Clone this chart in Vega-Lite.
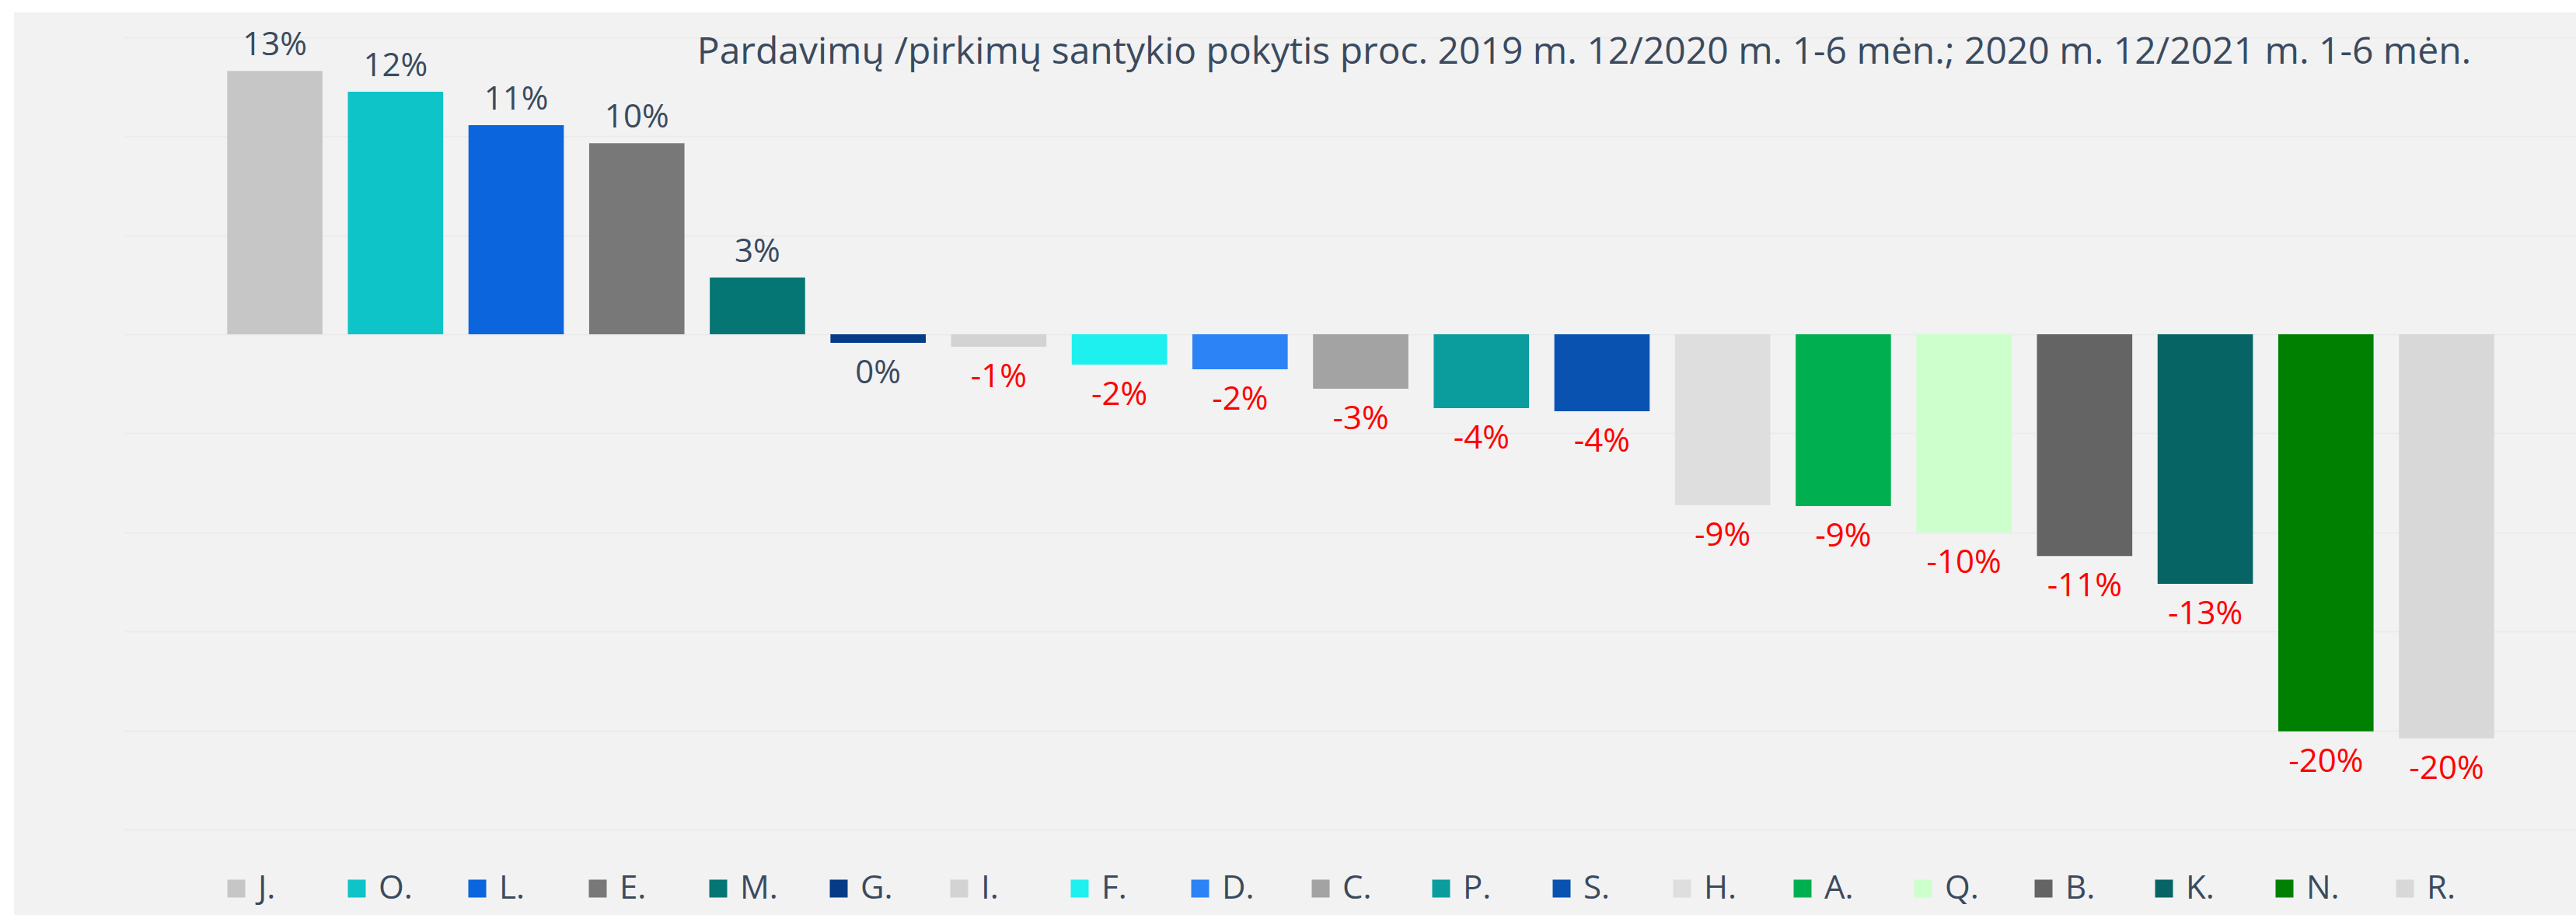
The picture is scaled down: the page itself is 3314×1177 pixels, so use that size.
{
  "$schema": "https://vega.github.io/schema/vega-lite/v6.json",
  "autosize": {"type": "none"},
  "padding": {"left": 18, "top": 16, "right": 0, "bottom": 0},
  "width": 3296,
  "height": 1161,
  "background": "#ffffff",
  "config": {
    "view": {"fill": "#f2f2f2", "stroke": null},
    "font": "Open Sans",
    "locale": {
      "number": {"decimal": ".", "thousands": ",", "grouping": [3], "currency": ["", ""], "minus": "-", "percent": "%"}
    }
  },
  "title": {
    "text": "Pardavimų /pirkimų santykio  pokytis proc. 2019 m. 12/2020 m. 1-6 mėn.; 2020 m. 12/2021 m. 1-6 mėn.",
    "anchor": "middle",
    "dx": 372,
    "dy": 50,
    "offset": -64,
    "baseline": "alphabetic",
    "font": "Open Sans",
    "fontSize": 48,
    "fontWeight": "normal",
    "color": "#3a4a5e"
  },
  "data": {
    "values": [
      {"cat": "J.", "value": 0.133},
      {"cat": "O.", "value": 0.1225},
      {"cat": "L.", "value": 0.1056},
      {"cat": "E.", "value": 0.0965},
      {"cat": "M.", "value": 0.0287},
      {"cat": "G.", "value": -0.0043},
      {"cat": "I.", "value": -0.0063},
      {"cat": "F.", "value": -0.0153},
      {"cat": "D.", "value": -0.0177},
      {"cat": "C.", "value": -0.0275},
      {"cat": "P.", "value": -0.0373},
      {"cat": "S.", "value": -0.0389},
      {"cat": "H.", "value": -0.0863},
      {"cat": "A.", "value": -0.0867},
      {"cat": "Q.", "value": -0.100},
      {"cat": "B.", "value": -0.112},
      {"cat": "K.", "value": -0.126},
      {"cat": "N.", "value": -0.2005},
      {"cat": "R.", "value": -0.204}
    ]
  },
  "encoding": {
    "x": {
      "field": "cat",
      "type": "nominal",
      "sort": null,
      "axis": null,
      "scale": {"range": [142, 3296], "paddingInner": 0.21, "paddingOuter": 0.765, "align": 0.557, "round": false}
    },
    "y": {
      "field": "value",
      "type": "quantitative",
      "scale": {"domain": [-0.2932, 0.1625], "nice": false, "zero": false},
      "axis": {
        "values": [-0.25, -0.2, -0.15, -0.1, -0.05, 0, 0.05, 0.1, 0.15],
        "grid": true,
        "gridColor": "#ebebeb",
        "gridWidth": 2,
        "labels": false,
        "ticks": false,
        "domain": false,
        "title": null
      }
    }
  },
  "layer": [
    {
      "mark": {"type": "bar"},
      "encoding": {
        "color": {
          "field": "cat",
          "type": "nominal",
          "sort": null,
          "scale": {
            "domain": ["J.", "O.", "L.", "E.", "M.", "G.", "I.", "F.", "D.", "C.", "P.", "S.", "H.", "A.", "Q.", "B.", "K.", "N.", "R."],
            "range": ["#c6c6c6", "#0ec4c8", "#0b65dc", "#787878", "#067674", "#063c87", "#d3d3d3", "#1ef0f0", "#2c83f6", "#a3a3a3", "#0b9c9e", "#0952b0", "#dedede", "#00b050", "#ccffcc", "#646464", "#076464", "#008000", "#d8d8d8"]
          },
          "legend": {
            "orient": "none",
            "legendX": 265,
            "legendY": 1106,
            "direction": "horizontal",
            "columns": 19,
            "gridAlign": "all",
            "columnPadding": 57,
            "symbolType": "square",
            "symbolSize": 529,
            "symbolStrokeWidth": 0,
            "labelFont": "Open Sans",
            "labelFontSize": 42,
            "labelColor": "#3a4a5e",
            "labelOffset": 7,
            "title": null,
            "padding": 0
          }
        }
      }
    },
    {
      "transform": [{"filter": "datum.value >= 0"}],
      "mark": {"type": "text", "baseline": "alphabetic", "dy": -20, "font": "Open Sans", "fontSize": 42, "color": "#3a4a5e"},
      "encoding": {
        "text": {"field": "value", "type": "quantitative", "format": ".0%"}
      }
    },
    {
      "transform": [{"filter": "datum.value < 0"}],
      "mark": {"type": "text", "baseline": "alphabetic", "dy": 52, "font": "Open Sans", "fontSize": 42},
      "encoding": {
        "text": {"field": "value", "type": "quantitative", "format": ".0%"},
        "color": {
          "condition": {"test": "datum.value > -0.005", "value": "#3a4a5e"},
          "value": "#ff0000"
        }
      }
    }
  ]
}
